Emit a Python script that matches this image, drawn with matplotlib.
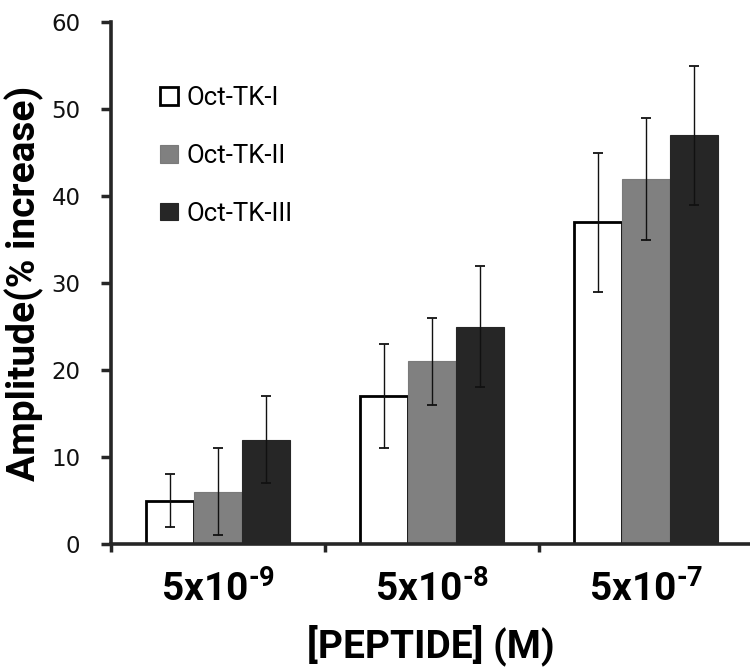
import numpy as np
import matplotlib
matplotlib.use("Agg")
import matplotlib.pyplot as plt

categories = ["5x10$^{\\text{-9}}$", "5x10$^{\\text{-8}}$", "5x10$^{\\text{-7}}$"]
series = ["Oct-TK-I", "Oct-TK-II", "Oct-TK-III"]
values_I = [5, 17, 37]
values_II = [6, 21, 42]
values_III = [12, 25, 47]
errors_I = [3, 6, 8]
errors_II = [5, 5, 7]
errors_III = [5, 7, 8]
yticks = [0, 10, 20, 30, 40, 50, 60]

plt.rcParams['mathtext.fontset'] = 'custom'
plt.rcParams['mathtext.rm'] = 'Roboto:bold'
plt.rcParams['mathtext.bf'] = 'Roboto:bold'
plt.rcParams['mathtext.it'] = 'Roboto:bold'

fig = plt.figure(figsize=(7.5, 6.69), dpi=100)
ax = fig.add_axes([111/750, 1-544/669, 1-111/750, (544-22)/669])

x = np.arange(len(categories))
w = 0.224
facecolors = ["white", "#808080", "#262626"]
edgecolors = ["black", "#7a7a7a", "#262626"]
linewidths = [2.0, 0.8, 0.8]
vals = [values_I, values_II, values_III]
errs = [errors_I, errors_II, errors_III]
for i, (v, e, name) in enumerate(zip(vals, errs, series)):
    pos = x + (i - 1) * w
    ax.bar(pos, v, width=w, color=facecolors[i], edgecolor=edgecolors[i],
           linewidth=linewidths[i], label=name, zorder=2)
    ax.errorbar(pos, v, yerr=e, fmt='none', ecolor='#111111', elinewidth=1.0,
                capsize=3.4, capthick=1.3, zorder=3)

ax.set_xlim(-0.5, 2.486)
ax.set_ylim(0, 60)
ax.set_yticks(yticks)
ax.tick_params(axis='y', direction='out', length=7, width=2.5, colors='#262626',
               labelsize=16.5, pad=15, labelcolor='#111111')
ax.set_xticks(x)
ax.set_xticklabels(categories, fontsize=28, fontweight='bold', family='Roboto')
ax.tick_params(axis='x', which='major', length=0, pad=19)
ax.set_xticks([-0.5, 0.5, 1.5], minor=True)
ax.tick_params(axis='x', which='minor', direction='out', length=6, width=2.5, colors='#262626')

for s in ['top', 'right']:
    ax.spines[s].set_visible(False)
for s in ['left', 'bottom']:
    ax.spines[s].set_linewidth(2.6)
    ax.spines[s].set_color('#262626')

ax.set_ylabel("Amplitude(% increase)", fontsize=28, fontweight='bold', family='Roboto', labelpad=5)
ax.set_xlabel("[PEPTIDE] (M)", fontsize=28, fontweight='bold', family='Roboto', labelpad=11)

leg = ax.legend(loc='upper left', bbox_to_anchor=(160/750, 1-86/669),
                bbox_transform=fig.transFigure, frameon=False,
                handlelength=0.7, handleheight=0.66, handletextpad=0.35,
                labelspacing=1.32, borderpad=0, borderaxespad=0,
                prop={'family': 'Roboto', 'size': 18.5})

fig.savefig("out.png", dpi=100)
